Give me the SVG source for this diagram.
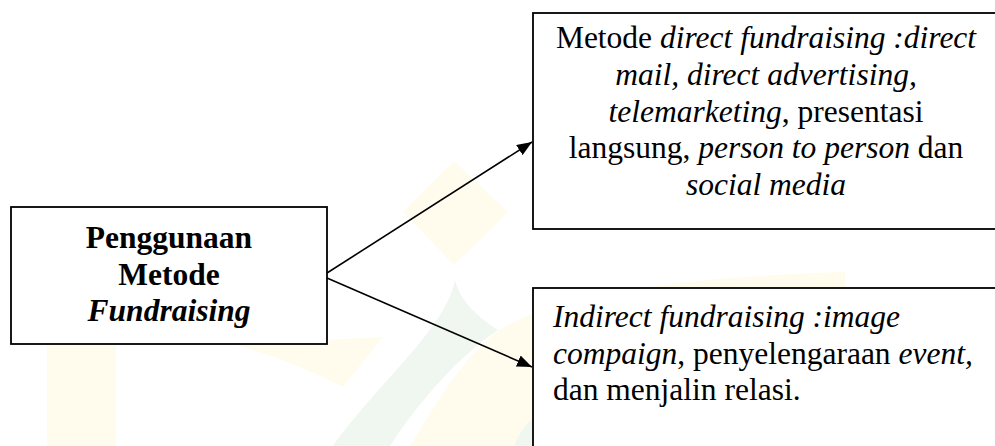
<svg xmlns="http://www.w3.org/2000/svg" width="995" height="446" viewBox="0 0 995 446">
  <style>
    .box { fill: #ffffff; stroke: #000000; stroke-width: 1.8; }
    .link { fill: none; stroke: #000000; stroke-width: 1.6; }
    .t { font-family: "Liberation Serif", "Times New Roman", serif; font-size: 31.5px; fill: #000000; }
    .b { font-weight: bold; }
    .i { font-style: italic; }
    .wm-y { fill: #fffcee; }
    .wm-g { fill: #f0f7f0; }
  </style>
  <defs>
    <marker id="arrow" markerUnits="userSpaceOnUse" markerWidth="16" markerHeight="12" refX="15" refY="6" orient="auto">
      <path d="M0,0 L15,6 L0,12 Z" fill="#000000"/>
    </marker>
  </defs>

  <rect width="995" height="446" fill="#ffffff"/>

  <!-- faint background emblem -->
  <g id="emblem">
    <polygon class="wm-y" points="454,161 508,212 454,265 403,212"/>
    <rect class="wm-y" x="47" y="340" width="69" height="106"/>
    <path class="wm-y" d="M233,344 L383,337 L343,387 Q290,360 233,344 Z"/>
    <path class="wm-g" d="M455,280 C445,330 380,380 333,446 L390,446 C420,400 460,355 498,330 C475,315 460,300 455,280 Z"/>
    <path class="wm-y" d="M410,446 C440,395 470,350 500,330 C560,292 700,276 845,272 L845,300 L533,300 L533,420 L513,446 Z"/>
    <path class="wm-g" d="M533,418 C525,425 518,435 514,446 L533,446 Z"/>
  </g>

  <!-- connectors -->
  <g id="connectors">
    <line class="link" x1="327" y1="273" x2="532" y2="142" marker-end="url(#arrow)"/>
    <line class="link" x1="327" y1="278" x2="532" y2="367" marker-end="url(#arrow)"/>
  </g>

  <g id="node-penggunaan">
    <rect class="box" x="11" y="207" width="316" height="137"/>
    <text class="t b" x="169" y="248" text-anchor="middle">Penggunaan</text>
    <text class="t b" x="169" y="285" text-anchor="middle">Metode</text>
    <text class="t b i" x="169" y="321" text-anchor="middle">Fundraising</text>
  </g>

  <g id="node-direct">
    <rect class="box" x="533" y="13" width="470" height="216"/>
    <text class="t" x="766" y="48" text-anchor="middle">Metode <tspan class="i">direct fundraising :direct</tspan></text>
    <text class="t i" x="766" y="85" text-anchor="middle">mail, direct advertising,</text>
    <text class="t" x="766" y="122" text-anchor="middle"><tspan class="i">telemarketing</tspan>, presentasi</text>
    <text class="t" x="766" y="158" text-anchor="middle">langsung, <tspan class="i">person to person</tspan> dan</text>
    <text class="t i" x="766" y="195" text-anchor="middle">social media</text>
  </g>

  <g id="node-indirect">
    <rect class="box" x="533" y="288" width="470" height="170"/>
    <text class="t i" x="553" y="327">Indirect fundraising :image</text>
    <text class="t" x="553" y="364"><tspan class="i">compaign</tspan>, penyelengaraan <tspan class="i">event,</tspan></text>
    <text class="t" x="553" y="400">dan menjalin relasi.</text>
  </g>
</svg>
